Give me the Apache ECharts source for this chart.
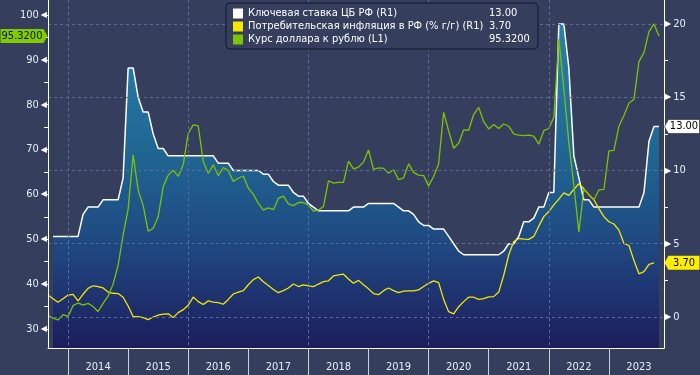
<!DOCTYPE html>
<html>
<head>
<meta charset="utf-8">
<script src="https://cdn.jsdelivr.net/npm/echarts@6/dist/echarts.min.js"></script>
<style>
  html, body { margin: 0; padding: 0; background: #353f5d; }
  #chart { width: 700px; height: 375px; }
</style>
</head>
<body>
<div id="chart"></div>
<script>
// Ключевая ставка / инфляция / курс USD-RUB, помесячно 2013-09 .. 2023-12
const firstYear = 2013
const lastYear = 2023
const months = []
for (let y = firstYear; y <= lastYear; y++) {
    for (let m = 1; m <= 12; m++) {
        if (y === firstYear && m < 9) continue
        months.push(y + '-' + String(m).padStart(2, '0'))
    }
}

const seriesNames = [
    'Ключевая ставка ЦБ РФ (R1)',
    'Потребительская инфляция в РФ (% г/г) (R1)',
    'Курс доллара к рублю (L1)'
]

// ставка ЦБ, % (правая шкала)
const keyRate = [
    null, 5.5, 5.5, 5.5, 5.5, 5.5, 5.5, 7.0, 7.5, 7.5,
    7.5, 8.0, 8.0, 8.0, 8.0, 9.5, 17, 17, 15, 14,
    14, 12.5, 11.5, 11.5, 11, 11, 11, 11, 11, 11,
    11, 11, 11, 11, 10.5, 10.5, 10.5, 10, 10, 10,
    10, 10, 10, 9.75, 9.75, 9.25, 9, 9, 9, 8.5,
    8.25, 8.25, 7.75, 7.5, 7.25, 7.25, 7.25, 7.25, 7.25, 7.25,
    7.25, 7.5, 7.5, 7.5, 7.75, 7.75, 7.75, 7.75, 7.75, 7.75,
    7.5, 7.25, 7.25, 7.0, 6.5, 6.25, 6.25, 6.0, 6.0, 6.0,
    5.5, 5.0, 4.5, 4.25, 4.25, 4.25, 4.25, 4.25, 4.25, 4.25,
    4.25, 4.5, 5.0, 5.0, 5.5, 6.5, 6.5, 6.75, 7.5, 7.5,
    8.5, 8.5, 20, 20, 17, 11, 9.5, 8, 8, 7.5,
    7.5, 7.5, 7.5, 7.5, 7.5, 7.5, 7.5, 7.5, 7.5, 8.5,
    12, 13, 13, null
]

// инфляция (правая шкала)
const inflation = [
    1.5, 1.25, 1.0, 1.25, 1.5, 1.55, 1.1, 1.55, 1.95, 2.13,
    2.08, 1.98, 1.7, 1.62, 1.6, 1.35, 0.75, 0.03, 0.02, -0.05,
    -0.18, 0.0, 0.13, 0.2, 0.22, -0.04, 0.3, 0.5, 0.8, 1.36,
    1.05, 0.85, 1.1, 1.02, 0.98, 0.87, 1.2, 1.57, 1.7, 1.8,
    2.2, 2.55, 2.73, 2.4, 2.15, 1.88, 1.66, 1.8, 1.98, 2.25,
    2.08, 2.2, 2.12, 2.07, 2.25, 2.41, 2.47, 2.8, 2.88, 2.92,
    2.6, 2.3, 2.5, 2.2, 1.92, 1.6, 1.52, 1.8, 1.98, 1.8,
    1.66, 1.77, 1.78, 1.78, 1.85, 2.08, 2.3, 2.47, 2.35, 1.2,
    0.36, 0.22, 0.7, 1.05, 1.35, 1.35, 1.2, 1.25, 1.37, 1.39,
    1.7, 2.85, 4.25, 5.15, 5.36, 5.32, 5.3, 5.5, 6.2, 6.85,
    7.2, 7.65, 8.05, 8.47, 8.3, 8.7, 9.1, 8.75, 8.35, 8.0,
    7.4, 6.85, 6.5, 6.35, 5.93, 5.02, 4.88, 3.85, 2.95, 3.1,
    3.6, 3.7, null, null
]

// курс доллара (левая шкала)
const usdRub = [
    33.0, 32.4, 32.0, 33.2, 32.8, 35.2, 35.8, 35.3, 35.7, 35.0,
    33.9, 35.7, 37.3, 40.0, 44.2, 51.0, 56.7, 68.8, 61.0, 57.5,
    51.8, 52.4, 55.0, 61.7, 64.3, 65.4, 64.0, 66.6, 73.6, 75.5,
    75.3, 67.3, 64.7, 66.6, 64.2, 66.0, 65.3, 62.9, 63.6, 64.1,
    61.4, 60.0, 58.0, 56.5, 57.0, 56.6, 59.1, 59.6, 57.9, 57.5,
    58.2, 58.2, 57.6, 56.3, 56.5, 57.3, 63.0, 62.5, 62.7, 62.7,
    67.4, 65.7, 66.1, 67.2, 69.9, 65.6, 65.9, 65.8, 64.7, 65.5,
    63.3, 63.7, 66.8, 64.9, 64.3, 64.2, 61.9, 64.0, 66.8, 78.3,
    74.2, 70.3, 71.4, 74.4, 74.3, 77.8, 79.4, 76.2, 74.6, 75.6,
    74.7, 75.7, 75.2, 73.5, 73.2, 73.1, 73.2, 73.0, 71.2, 74.2,
    74.7, 77.2, 94.7, 83.5, 71.5, 62.0, 51.6, 61.2, 59.9, 58.8,
    61.0, 61.1, 69.7, 69.8, 75.2, 77.6, 80.3, 81.2, 89.6, 91.6,
    96.3, 98.0, 95.32, null
]

// последние значения для легенды и ярлыков
const lastValues = ['13.00', '3.70', '95.3200']

const leftTicks = [30, 40, 50, 60, 70, 80, 90, 100]
const leftMinor = [35, 45, 55, 65, 75, 85, 95]
const rightTicks = [0, 5, 10, 15, 20]
const rightMinor = [2.5, 7.5, 12.5, 17.5]

const FONT = "'DejaVu Sans Condensed', 'DejaVu Sans', sans-serif"
const BG = '#353f5d'
const TXT = '#e6ecfa'
const GRIDLINE = '#5b6a96'
const colors = ['#ffffff', '#f4e800', '#7cc400']

const leftMin = 25.76, leftMax = 103.34
const rightMin = -2.116, rightMax = 21.638

const chart = echarts.init(document.getElementById('chart'))

const lastCat = months[months.length - 1]

chart.setOption({
    animation: false,
    backgroundColor: BG,
    grid: { left: 48, right: 36, top: 0, bottom: 27 },
    legend: {
        orient: 'vertical',
        left: 226,
        top: 3,
        z: 10,
        selectedMode: false,
        backgroundColor: BG,
        borderColor: '#11162a',
        borderWidth: 1,
        borderRadius: 4,
        padding: [5, 8, 4, 7],
        itemWidth: 10,
        itemHeight: 10,
        itemGap: 2,
        icon: 'rect',
        formatter: name => '{n|' + name + '}{v|' + lastValues[seriesNames.indexOf(name)] + '}',
        textStyle: {
            color: '#ffffff',
            fontFamily: FONT,
            fontSize: 11,
            rich: {
                n: { width: 241, color: '#ffffff', fontFamily: FONT, fontSize: 11 },
                v: { color: '#ffffff', fontFamily: FONT, fontSize: 11 }
            }
        },
        data: seriesNames.map((n, i) => ({ name: n, itemStyle: { color: colors[i] } }))
    },
    xAxis: {
        type: 'category',
        data: months,
        boundaryGap: false,
        z: 3,
        axisLine: { onZero: false, lineStyle: { color: '#ffffff', width: 1 } },
        axisTick: {
            interval: (i, v) => v.endsWith('-01'),
            length: 30,
            lineStyle: { color: '#c9cfdd' }
        },
        axisLabel: {
            interval: (i, v) => v.endsWith('-07'),
            formatter: v => v.slice(0, 4),
            margin: 14,
            color: TXT,
            fontFamily: FONT,
            fontSize: 11
        },
        splitLine: {
            show: true,
            interval: (i, v) => v.endsWith('-01') && (+v.slice(0, 4)) % 2 === 0,
            lineStyle: { color: GRIDLINE, type: [3, 3], width: 1 }
        }
    },
    yAxis: [
        {
            type: 'value',
            position: 'left',
            min: leftMin,
            max: leftMax,
            z: 3,
            axisLine: { show: true, onZero: false, lineStyle: { color: '#ffffff' } },
            axisTick: { show: true, customValues: leftMinor.concat(leftTicks), length: 4, lineStyle: { color: '#ffffff' } },
            axisLabel: {
                customValues: leftTicks,
                margin: 1,
                formatter: v => '{v|' + v + '}{t|◀}',
                rich: {
                    v: { color: TXT, fontFamily: FONT, fontSize: 11, padding: [0, 2, 0, 0] },
                    t: { color: '#ffffff', fontFamily: 'DejaVu Sans', fontSize: 8 }
                }
            },
            splitLine: { show: false }
        },
        {
            type: 'value',
            position: 'right',
            min: rightMin,
            max: rightMax,
            z: 3,
            axisLine: { show: true, onZero: false, lineStyle: { color: '#ffffff' } },
            axisTick: { show: true, customValues: rightMinor.concat(rightTicks), length: 4, lineStyle: { color: '#ffffff' } },
            axisLabel: {
                customValues: rightTicks,
                margin: 1,
                formatter: v => '{t|▶}{v|' + v + '}',
                rich: {
                    v: { color: TXT, fontFamily: FONT, fontSize: 11, padding: [0, 0, 0, 2] },
                    t: { color: '#ffffff', fontFamily: 'DejaVu Sans', fontSize: 8 }
                }
            },
            splitLine: { show: false }
        },
        {
            // только горизонтальная сетка по правой шкале
            type: 'value',
            position: 'right',
            min: rightMin,
            max: rightMax,
            z: 3,
            axisLine: { show: false },
            axisTick: { show: false, customValues: rightTicks },
            axisLabel: { show: false },
            splitLine: { show: true, lineStyle: { color: GRIDLINE, type: [3, 3], width: 1 } }
        }
    ],
    series: [
        {
            name: seriesNames[0],
            type: 'line',
            yAxisIndex: 1,
            data: keyRate,
            symbol: 'none',
            z: 2,
            itemStyle: { color: colors[0] },
            lineStyle: { color: colors[0], width: 1.5 },
            areaStyle: {
                origin: 'start',
                opacity: 1,
                color: new echarts.graphic.LinearGradient(0, 0, 0, 348, [
                    { offset: 0, color: '#2a86b0' },
                    { offset: 0.45, color: '#1f6592' },
                    { offset: 0.72, color: '#1f4680' },
                    { offset: 1, color: '#1d1d5c' }
                ], true)
            },
            markPoint: {
                symbol: 'path://M4,0L36,0L36,14L4,14L0,7Z',
                symbolSize: [35, 14],
                symbolOffset: [18, 0],
                itemStyle: { color: '#ffffff', borderColor: '#1a1a1a', borderWidth: 0.5 },
                label: { show: true, color: '#000000', fontFamily: FONT, fontSize: 11, offset: [2, 0], formatter: () => lastValues[0] },
                data: [{ coord: [lastCat, 13] }]
            }
        },
        {
            name: seriesNames[1],
            type: 'line',
            yAxisIndex: 1,
            data: inflation,
            symbol: 'none',
            z: 2,
            itemStyle: { color: colors[1] },
            lineStyle: { color: colors[1], width: 1.3 },
            markPoint: {
                symbol: 'path://M4,0L36,0L36,14L4,14L0,7Z',
                symbolSize: [35, 14],
                symbolOffset: [18, 0],
                itemStyle: { color: '#ffee00' },
                label: { show: true, color: '#000000', fontFamily: FONT, fontSize: 11, offset: [2, 0], formatter: () => lastValues[1] },
                data: [{ coord: [lastCat, 3.7] }]
            }
        },
        {
            name: seriesNames[2],
            type: 'line',
            yAxisIndex: 0,
            data: usdRub,
            symbol: 'none',
            z: 2,
            itemStyle: { color: colors[2] },
            lineStyle: { color: colors[2], width: 1.3 },
            markPoint: {
                symbol: 'path://M0,0L44,0L48,7L44,14L0,14Z',
                symbolSize: [47, 14],
                symbolOffset: [-24, 0],
                itemStyle: { color: '#80cc00' },
                label: { show: true, color: '#111111', fontFamily: FONT, fontSize: 11, offset: [-2, 0], formatter: () => lastValues[2] },
                data: [{ coord: [months[0], 95.32] }]
            }
        }
    ]
})
</script>
</body>
</html>
